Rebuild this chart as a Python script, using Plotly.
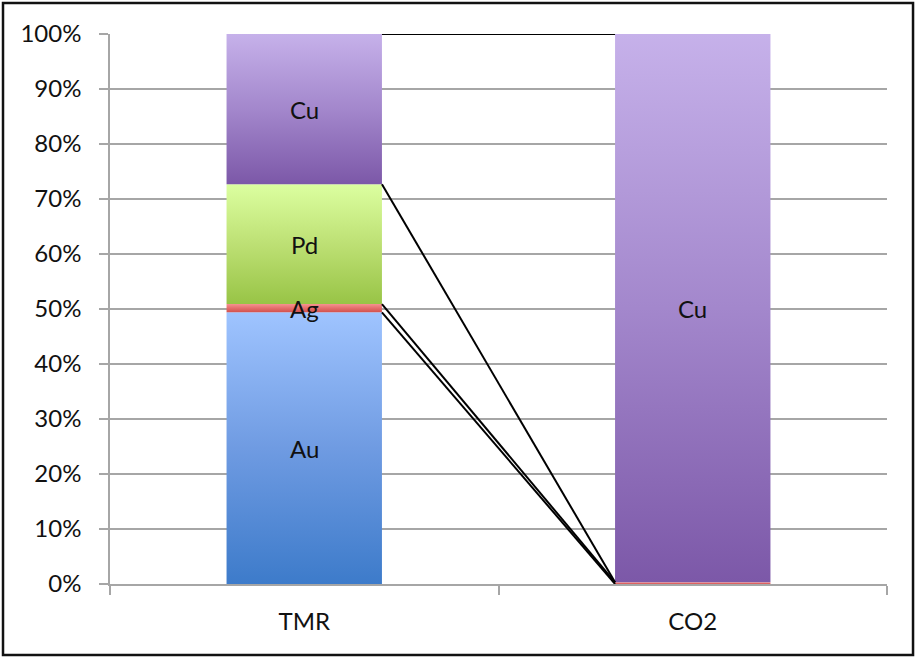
import plotly.graph_objects as go

# Composition of each sample (percent of total), stacked bottom to top
categories = ["TMR", "CO2"]
series_names = ["Au", "Ag", "Pd", "Cu"]
au = [49.4, 0.0]
ag = [1.5, 0.3]
pd_ = [21.8, 0.0]
cu = [27.3, 99.7]
y_ticks = [0, 10, 20, 30, 40, 50, 60, 70, 80, 90, 100]

series_values = [au, ag, pd_, cu]

# Vertical gradients per series: (bottom, middle, top)
gradients = {
    "Au": ("#3d7bca", "#6f9be2", "#9fc4ff"),
    "Ag": ("#d2504d", "#e46e6c", "#f59190"),
    "Pd": ("#98c446", "#bde074", "#dcffa0"),
    "Cu": ("#7c58a8", "#a387cc", "#c6b1ea"),
}

BAR_HALF = 0.2  # bar width 0.4 of the category slot
FONT = "Lato, 'Open Sans', Arial, sans-serif"

fig = go.Figure()

x_pos = list(range(len(categories)))
bases = [0.0] * len(categories)
tops = []  # cumulative tops per series for the connector lines
annotations = []

for name, vals in zip(series_names, series_values):
    low, mid, high = gradients[name]
    cur_tops = []
    for j, v in enumerate(vals):
        y0 = bases[j]
        y1 = y0 + v
        cur_tops.append(y1)
        if v > 0:
            x0, x1 = x_pos[j] - BAR_HALF, x_pos[j] + BAR_HALF
            fig.add_trace(go.Scatter(
                x=[x0, x1, x1, x0, x0],
                y=[y0, y0, y1, y1, y0],
                mode="lines",
                line=dict(width=0, color="rgba(0,0,0,0)"),
                fill="toself",
                fillgradient=dict(
                    type="vertical",
                    colorscale=[[0, low], [0.5, mid], [1, high]],
                ),
                hoverinfo="skip",
                showlegend=False,
            ))
            if v >= 1:
                annotations.append(dict(
                    x=x_pos[j], y=y0 + v / 2, text=name,
                    xref="x", yref="y", showarrow=False,
                    font=dict(family=FONT, size=24, color="#111111"),
                ))
        bases[j] = y1
    tops.append(cur_tops)

# Series lines joining the top of each stacked segment across categories
for cur_tops in tops:
    fig.add_trace(go.Scatter(
        x=[x_pos[0] + BAR_HALF, x_pos[1] - BAR_HALF],
        y=[cur_tops[0], cur_tops[1]],
        mode="lines",
        line=dict(color="black", width=2),
        hoverinfo="skip",
        showlegend=False,
    ))

fig.update_layout(
    width=916, height=657,
    margin=dict(l=110, r=29, t=34, b=73),
    paper_bgcolor="white",
    plot_bgcolor="white",
    font=dict(family=FONT, size=24, color="#111111"),
    showlegend=False,
    annotations=annotations,
    xaxis=dict(
        range=[-0.5, 1.5],
        tickmode="array",
        tickvals=x_pos,
        ticktext=categories,
        ticks="",
        showgrid=False,
        zeroline=False,
        showline=True,
        linecolor="#a6a6a6",
        linewidth=1.5,
        ticklabelstandoff=15,
        minor=dict(
            tickmode="array",
            tickvals=[-0.5, 0.5, 1.5],
            ticks="outside",
            ticklen=9,
            tickcolor="#a6a6a6",
            tickwidth=1.5,
            showgrid=False,
        ),
    ),
    yaxis=dict(
        range=[0, 100],
        tickmode="array",
        tickvals=y_ticks,
        ticktext=[f"{t}%" for t in y_ticks],
        ticks="outside",
        ticklen=9,
        tickcolor="#a6a6a6",
        tickwidth=1.5,
        showgrid=True,
        gridcolor="#a6a6a6",
        gridwidth=1.5,
        zeroline=False,
        showline=True,
        linecolor="#a6a6a6",
        linewidth=1.5,
        ticklabelstandoff=13,
    ),
    shapes=[dict(
        type="rect", xref="paper", yref="paper",
        x0=-0.1377, x1=1.0335, y0=-0.1291, y1=1.0564,
        line=dict(color="#111111", width=2.5),
        fillcolor="rgba(0,0,0,0)",
        layer="above",
    )],
)

fig.write_html("out.html")
